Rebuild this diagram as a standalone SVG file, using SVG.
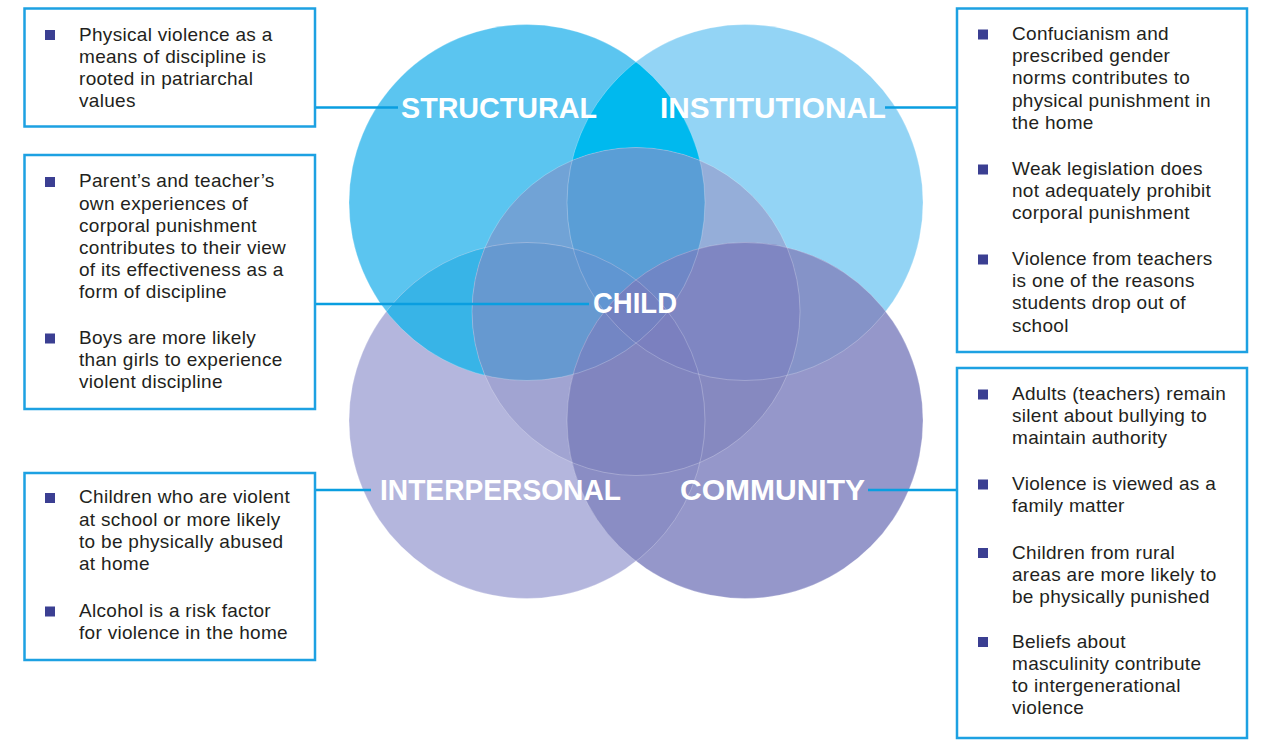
<svg xmlns="http://www.w3.org/2000/svg" xmlns:xlink="http://www.w3.org/1999/xlink" width="1277" height="751" viewBox="0 0 1277 751">
<style>
.box{fill:#fff;stroke:#1DA1E2;stroke-width:2.5}
.t{font-family:"Liberation Sans",Arial,sans-serif;font-size:19px;letter-spacing:0.3px;fill:#231F20}
.b{fill:#3B3F92}
.lbl{font-family:"Liberation Sans",Arial,sans-serif;font-weight:bold;font-size:30px;fill:#fff}
.con{stroke:#0A9EE0;stroke-width:2.5;fill:none}
.edge{fill:none;stroke:#fff;stroke-opacity:0.3;stroke-width:0.8}
</style>
<defs>
<circle id="S" cx="527" cy="202.5" r="178"/>
<circle id="I" cx="745" cy="202.5" r="178"/>
<circle id="P" cx="527" cy="420.5" r="178"/>
<circle id="C" cx="745" cy="420.5" r="178"/>
<circle id="H" cx="636" cy="311.5" r="164"/>
<clipPath id="cS"><circle cx="527" cy="202.5" r="178"/></clipPath>
<clipPath id="cI"><circle cx="745" cy="202.5" r="178"/></clipPath>
<clipPath id="cP"><circle cx="527" cy="420.5" r="178"/></clipPath>
<clipPath id="cC"><circle cx="745" cy="420.5" r="178"/></clipPath>
<clipPath id="cH"><circle cx="636" cy="311.5" r="164"/></clipPath>
</defs>
<rect width="1277" height="751" fill="#fff"/>
<g id="venn">
<use href="#S" fill="#5BC5F0"/>
<use href="#I" fill="#93D4F5"/>
<use href="#P" fill="#B4B6DD"/>
<use href="#C" fill="#9597CA"/>
<g clip-path="url(#cS)"><use href="#I" fill="#00B9EE"/><use href="#P" fill="#38B4E7"/></g>
<g clip-path="url(#cC)"><use href="#I" fill="#8593C8"/><use href="#P" fill="#8A8DC4"/></g>
<g clip-path="url(#cH)">
<use href="#S" fill="#71A3D6"/><use href="#I" fill="#95AED9"/><use href="#P" fill="#A1A4D2"/><use href="#C" fill="#8689C0"/>
<g clip-path="url(#cS)"><use href="#I" fill="#5A9ED6"/><use href="#P" fill="#6699D0"/><use href="#C" fill="#7381C1"/></g>
<g clip-path="url(#cC)"><use href="#I" fill="#7F86C2"/><use href="#P" fill="#8185BF"/></g>
<g clip-path="url(#cI)"><use href="#P" fill="#7381C1"/></g>
<g clip-path="url(#cS)"><g clip-path="url(#cI)"><use href="#P" fill="#6096D2"/><use href="#C" fill="#6F87C6"/></g></g>
<g clip-path="url(#cP)"><g clip-path="url(#cC)"><use href="#S" fill="#7386C4"/><use href="#I" fill="#7B80BF"/></g></g>
<g clip-path="url(#cS)"><g clip-path="url(#cI)"><g clip-path="url(#cP)"><use href="#C" fill="#7381C1"/></g></g></g>
</g>
<use href="#S" class="edge"/><use href="#I" class="edge"/><use href="#P" class="edge"/><use href="#C" class="edge"/><use href="#H" class="edge"/>
</g>
<g id="connectors">
<path class="con" d="M315 107.5H398"/>
<path class="con" d="M885 107.5H957"/>
<path class="con" d="M315 304H589"/>
<path class="con" d="M315 490H371"/>
<path class="con" d="M868 490H957"/>
</g>
<g id="labels">
<text class="lbl" x="401" y="118" textLength="196" lengthAdjust="spacingAndGlyphs">STRUCTURAL</text>
<text class="lbl" x="660" y="118" textLength="226" lengthAdjust="spacingAndGlyphs">INSTITUTIONAL</text>
<text class="lbl" x="593" y="313" textLength="84" lengthAdjust="spacingAndGlyphs">CHILD</text>
<text class="lbl" x="380" y="500" textLength="241" lengthAdjust="spacingAndGlyphs">INTERPERSONAL</text>
<text class="lbl" x="680" y="500" textLength="185" lengthAdjust="spacingAndGlyphs">COMMUNITY</text>
</g>
<g id="box-structural">
<rect class="box" x="24.5" y="8.5" width="290.5" height="118"/>
<rect class="b" x="45" y="30" width="10" height="10"/>
<text class="t" x="79"><tspan x="79" y="40.5">Physical violence as a</tspan><tspan x="79" y="62.7">means of discipline is</tspan><tspan x="79" y="84.9">rooted in patriarchal</tspan><tspan x="79" y="107.1">values</tspan></text>
</g>
<g id="box-child">
<rect class="box" x="24.5" y="155" width="290.5" height="254"/>
<rect class="b" x="45" y="177" width="10" height="10"/>
<rect class="b" x="45" y="333.5" width="10" height="10"/>
<text class="t"><tspan x="79" y="187.3">Parent’s and teacher’s</tspan><tspan x="79" y="209.5">own experiences of</tspan><tspan x="79" y="231.7">corporal punishment</tspan><tspan x="79" y="253.9">contributes to their view</tspan><tspan x="79" y="276.1">of its effectiveness as a</tspan><tspan x="79" y="298.3">form of discipline</tspan><tspan x="79" y="344">Boys are more likely</tspan><tspan x="79" y="366.2">than girls to experience</tspan><tspan x="79" y="388.4">violent discipline</tspan></text>
</g>
<g id="box-interpersonal">
<rect class="box" x="24.5" y="473" width="290.5" height="187"/>
<rect class="b" x="45" y="493" width="10" height="10"/>
<rect class="b" x="45" y="606.5" width="10" height="10"/>
<text class="t"><tspan x="79" y="503.3">Children who are violent</tspan><tspan x="79" y="525.5">at school or more likely</tspan><tspan x="79" y="547.7">to be physically abused</tspan><tspan x="79" y="569.9">at home</tspan><tspan x="79" y="616.7">Alcohol is a risk factor</tspan><tspan x="79" y="638.9">for violence in the home</tspan></text>
</g>
<g id="box-institutional">
<rect class="box" x="957" y="8.5" width="290" height="343.5"/>
<rect class="b" x="978" y="29.5" width="10" height="10"/>
<rect class="b" x="978" y="164.5" width="10" height="10"/>
<rect class="b" x="978" y="254.5" width="10" height="10"/>
<text class="t"><tspan x="1012" y="40">Confucianism and</tspan><tspan x="1012" y="62.2">prescribed gender</tspan><tspan x="1012" y="84.4">norms contributes to</tspan><tspan x="1012" y="106.6">physical punishment in</tspan><tspan x="1012" y="128.8">the home</tspan><tspan x="1012" y="175">Weak legislation does</tspan><tspan x="1012" y="197.2">not adequately prohibit</tspan><tspan x="1012" y="219.4">corporal punishment</tspan><tspan x="1012" y="265">Violence from teachers</tspan><tspan x="1012" y="287.2">is one of the reasons</tspan><tspan x="1012" y="309.4">students drop out of</tspan><tspan x="1012" y="331.6">school</tspan></text>
</g>
<g id="box-community">
<rect class="box" x="957" y="368" width="290" height="370"/>
<rect class="b" x="978" y="389.5" width="10" height="10"/>
<rect class="b" x="978" y="479.5" width="10" height="10"/>
<rect class="b" x="978" y="548" width="10" height="10"/>
<rect class="b" x="978" y="637" width="10" height="10"/>
<text class="t"><tspan x="1012" y="400">Adults (teachers) remain</tspan><tspan x="1012" y="422.2">silent about bullying to</tspan><tspan x="1012" y="444.4">maintain authority</tspan><tspan x="1012" y="490">Violence is viewed as a</tspan><tspan x="1012" y="512.2">family matter</tspan><tspan x="1012" y="558.5">Children from rural</tspan><tspan x="1012" y="580.7">areas are more likely to</tspan><tspan x="1012" y="602.9">be physically punished</tspan><tspan x="1012" y="647.5">Beliefs about</tspan><tspan x="1012" y="669.7">masculinity contribute</tspan><tspan x="1012" y="691.9">to intergenerational</tspan><tspan x="1012" y="714.1">violence</tspan></text>
</g>
</svg>
